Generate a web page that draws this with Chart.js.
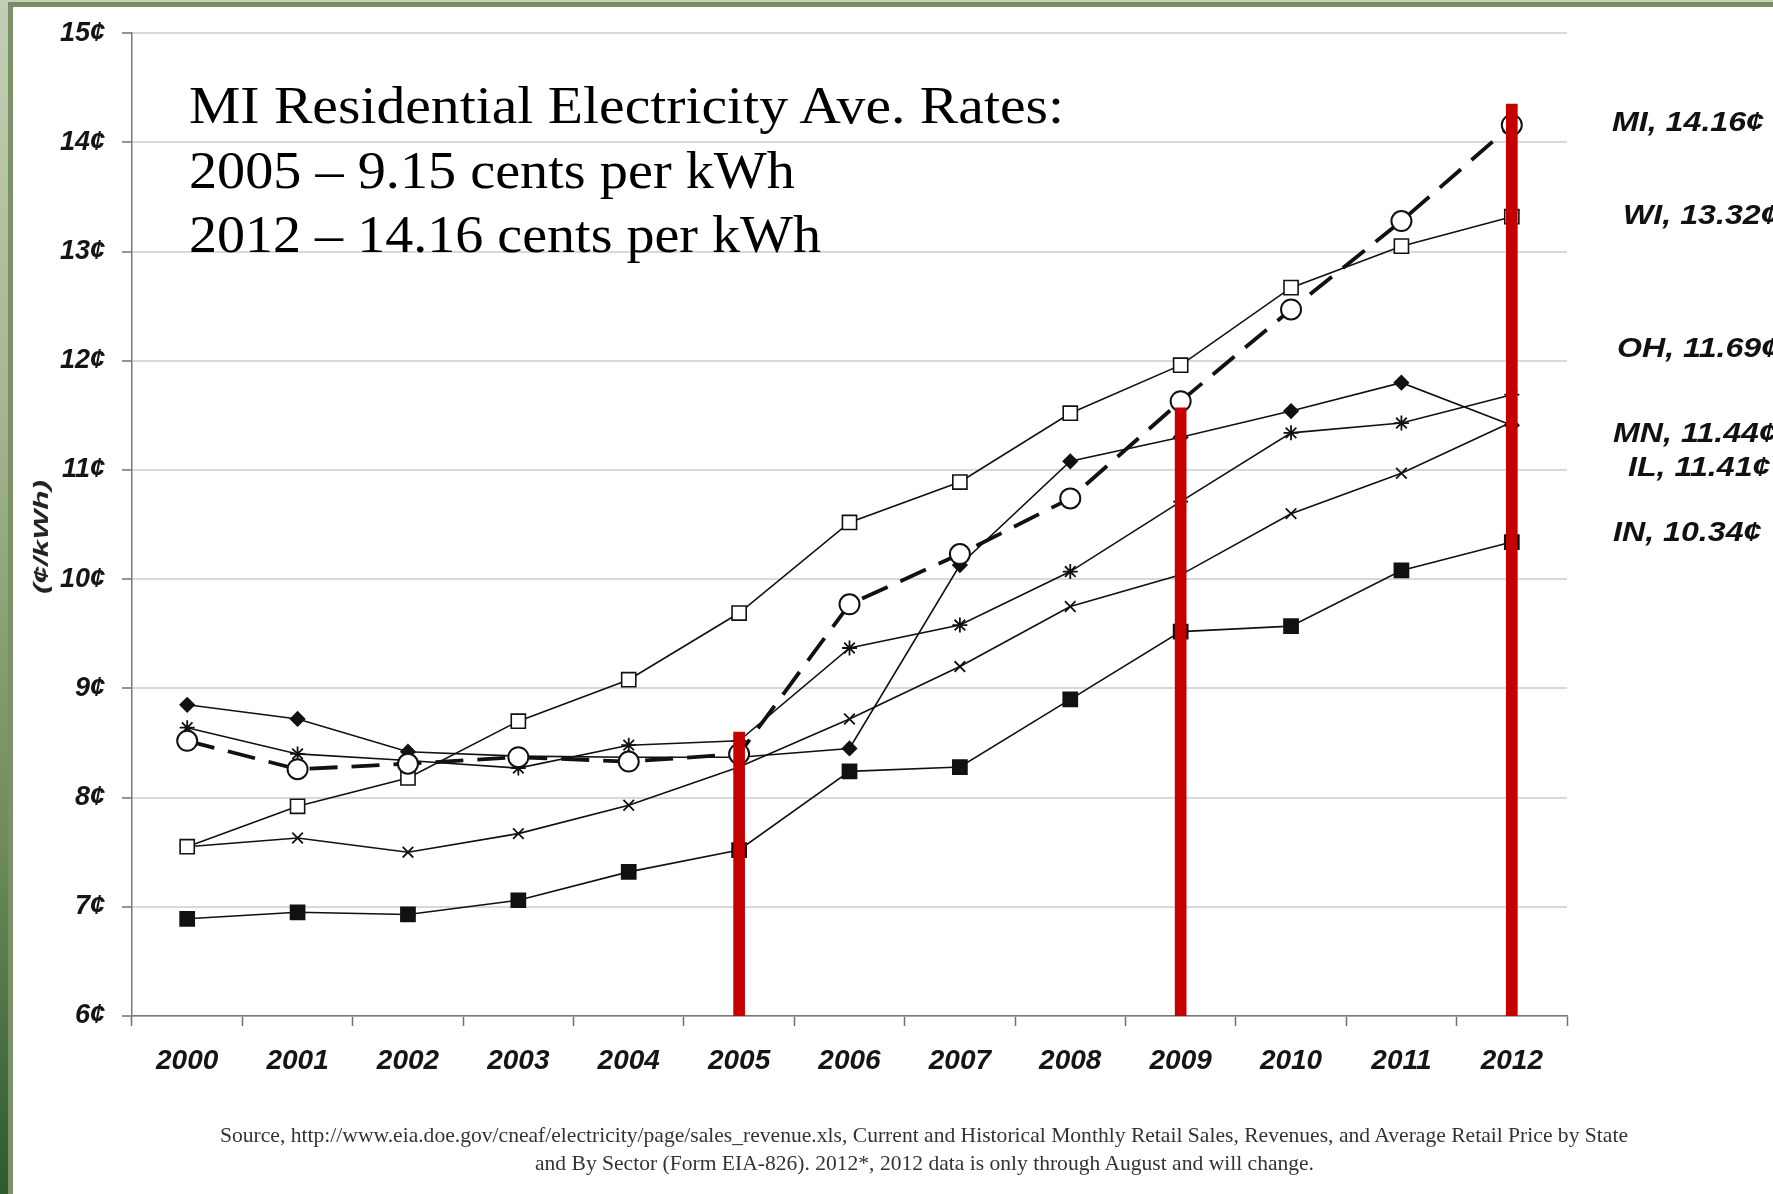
<!DOCTYPE html>
<html>
<head>
<meta charset="utf-8">
<script src="https://cdn.jsdelivr.net/npm/chart.js@4/dist/chart.umd.min.js"></script>
<style>
  html, body { margin: 0; padding: 0; background: #fff; }
  #wrap { position: relative; width: 1773px; height: 1194px; overflow: hidden; background: #fff; }
  #chart { position: absolute; left: 0; top: 0; }
  #frameTop { position: absolute; left: 0; top: 0; width: 1773px; height: 7px;
    background: linear-gradient(#c6d1ba 0, #c6d1ba 2px, #7a8c63 2px, #7a8c63 7px); }
  #frameLeft { position: absolute; left: 0; top: 0; width: 8px; height: 1194px;
    background: linear-gradient(#c3cfb5 0%, #a4b58f 35%, #6f8c5c 70%, #2d5a2f 100%); }
  #frameInner { position: absolute; left: 8px; top: 7px; width: 5px; height: 1187px; background: #7c9067; }
  .note { position: absolute; left: 189px; font-family: 'Liberation Serif', 'DejaVu Serif', serif;
    font-size: 52px; line-height: 64px; color: #000; white-space: nowrap; transform-origin: 0 50%; }
  .end { position: absolute; font-family: 'Liberation Sans', Arial, sans-serif; font-style: italic;
    font-weight: bold; font-size: 28px; line-height: 32px; color: #111; white-space: nowrap;
    transform-origin: 0 50%; }
  .src { position: absolute; font-family: 'Liberation Serif', serif; font-size: 21px; line-height: 24px;
    color: #333; white-space: nowrap; transform-origin: 0 50%; filter: blur(0.5px); }
  #ytitle { position: absolute; font-family: 'Liberation Sans', Arial, sans-serif; font-style: italic;
    font-weight: bold; font-size: 21px; line-height: 24px; color: #222; white-space: nowrap; }
</style>
</head>
<body>
<div id="wrap">
  <canvas id="chart" width="1773" height="1194"></canvas>
  <div id="frameTop"></div>
  <div id="frameLeft"></div>
  <div id="frameInner"></div>
  <div id="ytitle">(¢/kWh)</div>
</div>
<script>
// Residential electricity price by state, cents per kWh
const years = ['2000', '2001', '2002', '2003', '2004', '2005', '2006',
               '2007', '2008', '2009', '2010', '2011', '2012'];
const michigan  = [8.52, 8.26, 8.31, 8.37, 8.33, 8.40, 9.77, 10.23, 10.74, 11.63, 12.47, 13.28, 14.16];
const wisconsin = [7.55, 7.92, 8.18, 8.70, 9.08, 9.69, 10.52, 10.89, 11.52, 11.96, 12.67, 13.05, 13.32];
const ohio      = [8.64, 8.40, 8.34, 8.27, 8.48, 8.52, 9.37, 9.58, 10.07, 10.71, 11.34, 11.43, 11.69];
const minnesota = [7.55, 7.63, 7.50, 7.67, 7.93, 8.28, 8.72, 9.20, 9.75, 10.04, 10.60, 10.97, 11.44];
const illinois  = [8.85, 8.72, 8.42, 8.38, 8.37, 8.37, 8.45, 10.13, 11.08, 11.30, 11.54, 11.80, 11.41];
const indiana   = [6.89, 6.95, 6.93, 7.06, 7.32, 7.52, 8.24, 8.28, 8.90, 9.52, 9.57, 10.08, 10.34];

// Highlighted years (red bars) and the height each bar reaches
const highlightYears = ['2005', '2009', '2012'];
const highlightTops  = [8.60, 11.57, 14.35];

// Axis range in cents
const axisMin = 6;
const axisMax = 15;

const noteLines = [
  'MI Residential Electricity Ave. Rates:',
  '2005 \u2013 9.15 cents per kWh',
  '2012 \u2013 14.16 cents per kWh'
];
const sourceLines = [
  'Source, http://www.eia.doe.gov/cneaf/electricity/page/sales_revenue.xls, Current and Historical Monthly Retail Sales, Revenues, and Average Retail Price by State',
  'and By Sector (Form EIA-826). 2012*, 2012 data is only through August and will change.'
];

const barData = years.map(y => {
  const i = highlightYears.indexOf(y);
  return i < 0 ? null : [axisMin, highlightTops[i]];
});

const tickFont = { family: "'Liberation Sans', Arial, sans-serif", style: 'italic', weight: 'bold' };

const lineBase = {
  type: 'line', borderColor: '#111', borderWidth: 1.6, tension: 0,
  pointBorderColor: '#111', pointBorderWidth: 1.6, pointHoverRadius: 0
};

new Chart(document.getElementById('chart'), {
  type: 'line',
  data: {
    labels: years,
    datasets: [
      { type: 'bar', label: 'highlight', data: barData, backgroundColor: '#c40000',
        borderWidth: 0, barThickness: 11, order: 0 },
      Object.assign({}, lineBase, { label: 'MI', data: michigan, borderWidth: 3.8, borderDash: [28, 14],
        pointStyle: 'circle', pointRadius: 10, pointBackgroundColor: '#fff', pointBorderWidth: 2, order: 1 }),
      Object.assign({}, lineBase, { label: 'WI', data: wisconsin,
        pointStyle: 'rect', pointRadius: 10, pointBackgroundColor: '#fff', order: 2 }),
      Object.assign({}, lineBase, { label: 'IL', data: illinois,
        pointStyle: 'rectRot', pointRadius: 7, pointBackgroundColor: '#111', order: 3 }),
      Object.assign({}, lineBase, { label: 'OH', data: ohio,
        pointStyle: 'star', pointRadius: 7.5, pointBorderWidth: 1.8, order: 4 }),
      Object.assign({}, lineBase, { label: 'MN', data: minnesota,
        pointStyle: 'crossRot', pointRadius: 7.5, pointBorderWidth: 1.8, order: 5 }),
      Object.assign({}, lineBase, { label: 'IN', data: indiana,
        pointStyle: 'rect', pointRadius: 10, pointBackgroundColor: '#111', order: 6 })
    ]
  },
  options: {
    responsive: false,
    animation: false,
    devicePixelRatio: 1,
    layout: { padding: { left: 0, right: 206, top: 28, bottom: 0 } },
    plugins: { legend: { display: false }, tooltip: { enabled: false } },
    scales: {
      x: {
        type: 'category',
        offset: true,
        afterFit(scale) { scale.height = 178; },
        grid: { drawOnChartArea: false, offset: true, tickLength: 10, tickColor: '#707070', tickWidth: 1.5 },
        border: { color: '#7a7a7a', width: 1.5 },
        ticks: { font: Object.assign({ size: 28 }, tickFont), color: '#151515', padding: 18,
                 maxRotation: 0, autoSkip: false }
      },
      y: {
        min: axisMin,
        max: axisMax,
        afterFit(scale) { scale.width = 132; },
        ticks: { stepSize: 1, callback: v => v + '\u00a2', font: Object.assign({ size: 27 }, tickFont),
                 color: '#151515', padding: 17 },
        grid: { color: '#d9d9d9', lineWidth: 2, tickLength: 10, tickColor: '#707070', tickWidth: 1.5 },
        border: { color: '#7a7a7a', width: 1.5 }
      }
    }
  }
});

const wrap = document.getElementById('wrap');

function addText(cls, text, left, centerY, lineH) {
  const el = document.createElement('div');
  el.className = cls;
  el.textContent = text;
  el.style.left = left + 'px';
  el.style.top = (centerY - lineH / 2) + 'px';
  wrap.appendChild(el);
  return el;
}
function fitWidth(el, w) {
  const nat = el.getBoundingClientRect().width;
  el.style.transform = 'scaleX(' + (w / nat) + ')';
  return w / nat;
}

// Rotated value-axis title, centred at (41, 537), stretched to 114px along its length
(function () {
  const el = document.getElementById('ytitle');
  const w = el.getBoundingClientRect().width;
  el.style.left = (41 - w / 2) + 'px';
  el.style.top = (537 - 12) + 'px';
  el.style.transform = 'rotate(-90deg) scaleX(' + (114 / w) + ')';
})();

// Headline block
const noteCenters = [106, 171, 235];
const noteWidths = [875, 606, 632];
noteLines.forEach((t, i) => {
  const el = addText('note', t, 189, noteCenters[i], 64);
  fitWidth(el, noteWidths[i]);
});

// End-of-line value labels, built from each state's last value
const endSeries = [
  ['MI', michigan], ['WI', wisconsin], ['OH', ohio],
  ['MN', minnesota], ['IL', illinois], ['IN', indiana]
];
const endLefts = [1612, 1623, 1617, 1613, 1628, 1613];
const endCenters = [122, 215, 348, 433, 467, 532];
let endScale = 1;
endSeries.forEach(([code, vals], i) => {
  const el = addText('end', code + ', ' + vals[vals.length - 1].toFixed(2) + '\u00a2', endLefts[i], endCenters[i], 32);
  if (i === 0) endScale = fitWidth(el, 152);
  else el.style.transform = 'scaleX(' + endScale + ')';
});

// Source note
const srcLefts = [220, 535];
const srcCenters = [1135, 1163];
const srcWidths = [1408, 779];
sourceLines.forEach((t, i) => {
  const el = addText('src', t, srcLefts[i], srcCenters[i], 24);
  fitWidth(el, srcWidths[i]);
});
</script>
</body>
</html>
